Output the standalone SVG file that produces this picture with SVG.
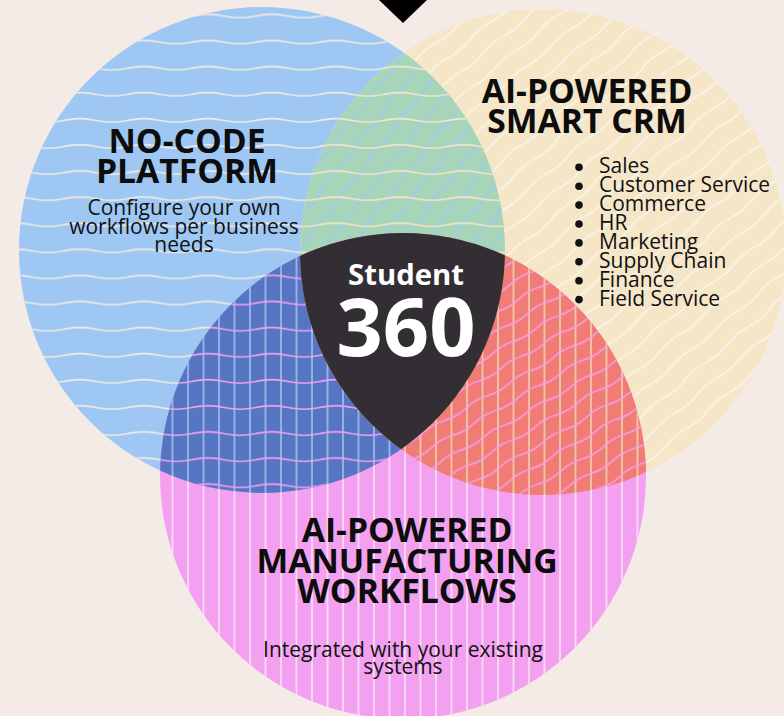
<svg xmlns="http://www.w3.org/2000/svg" width="784" height="716" viewBox="0 0 784 716">
  <style>
    .title { font-family: "Open Sans", "Liberation Sans", sans-serif; font-weight: 700; font-size: 33.7px; fill: #0d0d0d; text-anchor: middle; }
    .body { font-family: "Open Sans", "Liberation Sans", sans-serif; font-weight: 400; font-size: 21px; fill: #111; text-anchor: middle; }
    .list { font-family: "Open Sans", "Liberation Sans", sans-serif; font-weight: 400; font-size: 21px; fill: #111; }
    .center { font-family: "Open Sans", "Liberation Sans", sans-serif; font-weight: 700; fill: #ffffff; text-anchor: middle; }
    .wv { fill: none; stroke-width: 1.6; }
    .dw { fill: none; stroke-width: 1.3; }
    .vl { stroke-width: 1.5; }
  </style>
  <defs>
    <clipPath id="cpB"><circle cx="262" cy="250" r="243"/></clipPath>
    <clipPath id="cpY"><circle cx="543" cy="252" r="243"/></clipPath>
    <clipPath id="cpP"><circle cx="403" cy="476" r="243"/></clipPath>

    <!-- horizontal waves (blue circle pattern) -->
    <pattern id="hwWhite" patternUnits="userSpaceOnUse" x="0" y="3" width="64" height="26.1">
      <path class="wv" stroke="#F1EAE2" d="M0 13 Q16 9.5 32 13 T64 13"/>
    </pattern>
    <pattern id="hwCream" patternUnits="userSpaceOnUse" x="0" y="3" width="64" height="26.1">
      <path class="wv" stroke="#F5E6C8" d="M0 13 Q16 9.5 32 13 T64 13"/>
    </pattern>
    <pattern id="hwPink" patternUnits="userSpaceOnUse" x="0" y="3" width="64" height="26.1">
      <path class="wv" stroke="#F3A0F0" d="M0 13 Q16 9.5 32 13 T64 13"/>
    </pattern>

    <!-- diagonal waves (yellow circle pattern) -->
    <pattern id="dgWhite" patternUnits="userSpaceOnUse" width="56" height="19" patternTransform="rotate(-40)">
      <path class="dw" stroke="#FBF4EC" d="M0 9.5 Q14 6.5 28 9.5 T56 9.5"/>
    </pattern>
    <pattern id="dgBlue" patternUnits="userSpaceOnUse" width="50" height="19" patternTransform="rotate(-52)">
      <path class="wv" stroke="#9EC8F3" d="M0 9.5 Q12.5 6.5 25 9.5 T50 9.5"/>
    </pattern>
    <pattern id="dgPink" patternUnits="userSpaceOnUse" width="50" height="17" patternTransform="rotate(-30)">
      <path class="wv" stroke="#F3A0F0" d="M0 8.5 Q12.5 5.5 25 8.5 T50 8.5"/>
    </pattern>

    <!-- vertical lines (pink circle pattern) -->
    <pattern id="vlWhite" patternUnits="userSpaceOnUse" x="0" y="0" width="15.5" height="20">
      <line class="vl" stroke="#FAE9F5" x1="2" y1="0" x2="2" y2="20"/>
    </pattern>
    <pattern id="vlLight" patternUnits="userSpaceOnUse" x="0" y="0" width="15.5" height="20">
      <line class="vl" stroke="#A9C3EE" x1="2" y1="0" x2="2" y2="20"/>
    </pattern>
    <pattern id="vlCream" patternUnits="userSpaceOnUse" x="0" y="0" width="15.5" height="20">
      <line class="vl" stroke="#F6D6B2" x1="2" y1="0" x2="2" y2="20"/>
    </pattern>
  </defs>

  <rect x="0" y="0" width="784" height="716" fill="#F5EBE6"/>
  <polygon points="379,0 427,0 403,23" fill="#000000"/>

  <g id="no-code-platform">
    <circle cx="262" cy="250" r="243" fill="#9EC8F3"/>
    <circle cx="262" cy="250" r="243" fill="url(#hwWhite)"/>
    <text class="title" x="187" y="153">NO-CODE</text>
    <text class="title" x="187" y="183">PLATFORM</text>
    <text class="body" x="184" y="215">Configure your own</text>
    <text class="body" x="184" y="233.5">workflows per business</text>
    <text class="body" x="184" y="252">needs</text>
  </g>

  <g id="smart-crm">
    <circle cx="543" cy="252" r="243" fill="#F5E6C8"/>
    <circle cx="543" cy="252" r="243" fill="url(#dgWhite)"/>
    <text class="title" x="587" y="103">AI-POWERED</text>
    <text class="title" x="587" y="133">SMART CRM</text>
    <g fill="#111">
      <circle cx="579" cy="167.3" r="3.8"/>
      <circle cx="579" cy="186.2" r="3.8"/>
      <circle cx="579" cy="205.1" r="3.8"/>
      <circle cx="579" cy="224" r="3.8"/>
      <circle cx="579" cy="242.9" r="3.8"/>
      <circle cx="579" cy="261.8" r="3.8"/>
      <circle cx="579" cy="280.7" r="3.8"/>
      <circle cx="579" cy="299.6" r="3.8"/>
    </g>
    <text class="list" x="599" y="173.3">Sales</text>
    <text class="list" x="599" y="192.2">Customer Service</text>
    <text class="list" x="599" y="211.1">Commerce</text>
    <text class="list" x="599" y="230">HR</text>
    <text class="list" x="599" y="248.9">Marketing</text>
    <text class="list" x="599" y="267.8">Supply Chain</text>
    <text class="list" x="599" y="286.7">Finance</text>
    <text class="list" x="599" y="305.6">Field Service</text>
  </g>

  <g id="manufacturing-workflows">
    <circle cx="403" cy="476" r="243" fill="#F3A0F0"/>
    <circle cx="403" cy="476" r="243" fill="url(#vlWhite)"/>
    <text class="title" x="407" y="542">AI-POWERED</text>
    <text class="title" x="407" y="573">MANUFACTURING</text>
    <text class="title" x="407" y="603">WORKFLOWS</text>
    <text class="body" x="403" y="657">Integrated with your existing</text>
    <text class="body" x="403" y="674">systems</text>
  </g>

  <g id="overlaps">
    <g id="overlap-platform-crm" clip-path="url(#cpB)">
      <g clip-path="url(#cpY)">
        <rect x="290" y="0" width="220" height="500" fill="#A7D5B9"/>
        <rect x="290" y="0" width="220" height="500" fill="url(#dgBlue)"/>
        <rect x="290" y="0" width="220" height="500" fill="url(#hwCream)"/>
      </g>
    </g>
    <g id="overlap-platform-manufacturing" clip-path="url(#cpB)">
      <g clip-path="url(#cpP)">
        <rect x="150" y="220" width="370" height="290" fill="#5676C4"/>
        <rect x="150" y="220" width="370" height="290" fill="url(#vlLight)"/>
        <rect x="150" y="220" width="370" height="290" fill="url(#hwPink)"/>
      </g>
    </g>
    <g id="overlap-crm-manufacturing" clip-path="url(#cpY)">
      <g clip-path="url(#cpP)">
        <rect x="290" y="220" width="370" height="290" fill="#F07C75"/>
        <rect x="290" y="220" width="370" height="290" fill="url(#vlCream)"/>
        <rect x="290" y="220" width="370" height="290" fill="url(#dgPink)"/>
      </g>
    </g>
  </g>

  <g id="student-360">
    <g clip-path="url(#cpB)">
      <g clip-path="url(#cpY)">
        <g clip-path="url(#cpP)">
          <rect x="280" y="220" width="250" height="250" fill="#322E33"/>
        </g>
      </g>
    </g>
    <text class="center" x="406" y="285" font-size="29.3">Student</text>
    <text class="center" x="406" y="356" font-size="81">360</text>
  </g>

  <g id="connectors"/>
</svg>
